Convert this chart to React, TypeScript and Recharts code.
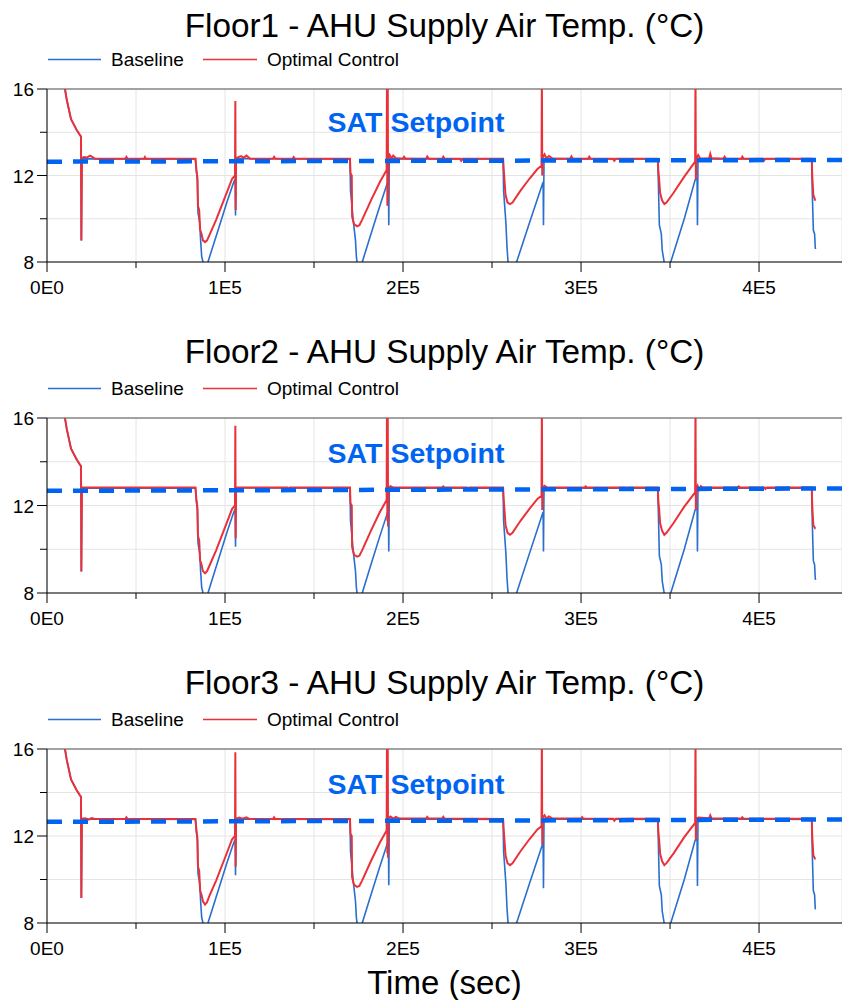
import { LineChart, Line, XAxis, YAxis, CartesianGrid, ReferenceLine } from 'recharts';

// time (s) / supply air temperature (°C)
const floor1Baseline: [number, number][] = [
  [0, 18.6], [10100, 16.0], [11100, 15.5], [13500, 14.6], [16700, 14.1], [18500, 13.87], [19100, 13.8],
  [19300, 9.0], [19600, 12.78], [83400, 12.76],
  [83900, 12.2], [84500, 11.8], [84800, 10.3], [85800, 9.8], [86300, 9.0], [86900, 8.25], [87500, 8.05],
  [87900, 7.6], [89000, 7.5], [90200, 7.9], [90600, 8.05], [96000, 9.45], [101000, 10.75], [104500, 11.6],
  [105700, 11.85], [105900, 10.15], [106200, 12.78], [170200, 12.76],
  [170500, 11.3], [171400, 10.5], [172000, 9.94], [173300, 9.0], [173800, 8.25], [174300, 7.9], [175500, 7.5],
  [176500, 7.8], [177100, 8.0], [182000, 9.3], [187000, 10.6], [191800, 11.8], [192000, 9.7], [192300, 12.78],
  [256200, 12.76],
  [256500, 11.3], [257800, 9.8], [258400, 8.7], [259000, 8.0], [259500, 7.6], [261500, 7.5], [263000, 7.9],
  [263800, 8.0], [271000, 9.8], [278700, 11.7], [278900, 9.7], [279200, 12.78], [343100, 12.76],
  [343400, 11.8], [344000, 9.7], [345100, 9.3], [345600, 8.55], [346700, 8.0], [347200, 7.6], [349000, 7.5],
  [350000, 7.9], [350400, 8.0], [358000, 10.0], [364100, 11.8], [365200, 11.85], [365400, 9.7], [365700, 12.78],
  [429600, 12.76], [429900, 11.25], [430500, 9.48], [431200, 9.3], [431600, 8.65], [431800, 8.6],
];

const floor1Optimal: [number, number][] = [
  [0, 18.6], [10100, 16.0], [11100, 15.5], [13500, 14.6], [16700, 14.1], [18500, 13.87], [19100, 13.8],
  [19300, 9.0], [19600, 12.8], [20800, 12.85], [22500, 12.83], [24200, 12.92], [25600, 12.85], [27000, 12.77],
  [44000, 12.77], [44600, 12.86], [45300, 12.77], [54500, 12.77], [55000, 12.85], [55600, 12.77], [83400, 12.77],
  [83900, 12.3], [84500, 11.9], [84800, 10.6], [85500, 10.4], [86000, 9.5], [86800, 9.3], [87600, 9.0],
  [88800, 8.92], [89900, 9.0], [91000, 9.2], [95000, 9.95], [100000, 11.0], [104000, 11.85], [105600, 12.0],
  [105800, 15.45], [106000, 10.4], [106200, 12.8], [107500, 12.85], [109000, 12.9], [110500, 12.82],
  [112000, 12.92], [114000, 12.78], [127000, 12.78], [127600, 12.86], [128300, 12.77], [138000, 12.77],
  [138600, 12.85], [139300, 12.77], [170200, 12.77],
  [170500, 12.1], [171200, 12.0], [171400, 10.1], [172500, 9.75], [174200, 9.65], [175500, 9.7], [177000, 9.95],
  [182000, 10.85], [187000, 11.7], [190800, 12.25], [191000, 16.8], [191200, 10.6], [191400, 16.8],
  [191600, 11.0], [191800, 12.8], [192500, 12.95], [193500, 12.8], [194500, 12.92], [196000, 12.8],
  [200000, 12.78], [200600, 12.86], [201300, 12.78], [213000, 12.78], [213600, 12.88], [214400, 12.78],
  [222000, 12.78], [222600, 12.87], [223300, 12.78], [232000, 12.77], [232700, 12.68], [233500, 12.77],
  [256200, 12.77],
  [256800, 12.0], [257600, 11.1], [258700, 10.75], [260100, 10.68], [261500, 10.75], [266000, 11.3],
  [271000, 11.85], [275500, 12.3], [277800, 12.45], [278000, 16.8], [278200, 12.0], [278500, 12.85],
  [279500, 12.98], [280500, 12.8], [282000, 12.9], [284000, 12.78], [294000, 12.78], [294600, 12.88],
  [295300, 12.78], [304000, 12.78], [304600, 12.87], [305300, 12.78], [318000, 12.77], [318700, 12.68],
  [319500, 12.77], [343100, 12.77],
  [343400, 12.25], [343900, 11.8], [344400, 11.2], [345500, 10.85], [346800, 10.68], [348000, 10.75],
  [352000, 11.2], [358000, 11.95], [364100, 12.64], [364300, 16.8], [364500, 11.8], [364800, 12.8],
  [365800, 12.95], [367000, 12.78], [372000, 12.8], [372600, 13.0], [373300, 12.8], [380000, 12.78],
  [380600, 12.87], [381300, 12.78], [390000, 12.78], [390600, 12.87], [391300, 12.78], [402000, 12.77],
  [402700, 12.68], [403500, 12.77], [429600, 12.77],
  [429900, 11.95], [430500, 11.1], [431500, 10.87], [431800, 10.87],
];

const floor2Baseline: [number, number][] = [
  [0, 18.6], [10100, 16.0], [11100, 15.5], [13500, 14.6], [16700, 14.1], [18500, 13.87], [19100, 13.8],
  [19300, 8.98], [19600, 12.8], [83400, 12.79],
  [83900, 12.2], [84500, 11.8], [84800, 10.3], [85800, 9.8], [86300, 9.0], [86900, 8.25], [87500, 8.05],
  [87900, 7.6], [89000, 7.5], [90200, 7.9], [90600, 8.05], [96000, 9.45], [101000, 10.75], [104500, 11.6],
  [105700, 11.85], [105900, 10.12], [106200, 12.8], [170200, 12.79],
  [170500, 11.3], [171400, 10.5], [172000, 9.94], [173300, 9.0], [173800, 8.25], [174300, 7.9], [175500, 7.5],
  [176500, 7.8], [177100, 8.0], [182000, 9.3], [187000, 10.6], [191800, 11.8], [192000, 9.9], [192300, 12.8],
  [256200, 12.79],
  [256500, 11.3], [257800, 9.8], [258400, 8.7], [259000, 8.0], [259500, 7.6], [261500, 7.5], [263000, 7.9],
  [263800, 8.0], [271000, 9.8], [278700, 11.7], [278900, 9.9], [279200, 12.8], [343100, 12.79],
  [343400, 11.8], [344000, 9.7], [345100, 9.3], [345600, 8.55], [346700, 8.0], [347200, 7.6], [349000, 7.5],
  [350000, 7.9], [350400, 8.0], [358000, 10.0], [364100, 11.8], [365200, 11.85], [365400, 9.9], [365700, 12.8],
  [429600, 12.79], [429900, 11.25], [430500, 9.48], [431200, 9.3], [431600, 8.65], [431800, 8.6],
];

const floor2Optimal: [number, number][] = [
  [0, 18.6], [10100, 16.0], [11100, 15.5], [13500, 14.6], [16700, 14.1], [18500, 13.87], [19100, 13.8],
  [19300, 8.98], [19600, 12.82], [83400, 12.82],
  [83900, 12.3], [84500, 11.9], [84800, 10.6], [85500, 10.4], [86000, 9.5], [86800, 9.3], [87600, 9.0],
  [88800, 8.9], [89900, 9.0], [91000, 9.2], [95000, 9.95], [100000, 11.0], [104000, 11.85], [105600, 12.0],
  [105800, 15.65], [106000, 10.5], [106200, 12.82], [135000, 12.82], [135600, 12.75], [136300, 12.82],
  [170200, 12.82],
  [170500, 12.1], [171200, 12.0], [171400, 10.1], [172500, 9.75], [174200, 9.66], [175500, 9.7], [177000, 9.95],
  [182000, 10.85], [187000, 11.7], [190800, 12.25], [191000, 16.8], [191200, 11.3], [191400, 16.8],
  [191600, 11.04], [191800, 12.82], [193000, 12.88], [194500, 12.82], [222000, 12.82], [222600, 12.87],
  [223300, 12.82], [236000, 12.82], [236600, 12.76], [237300, 12.82], [256200, 12.82],
  [256800, 12.0], [257600, 11.1], [258700, 10.75], [260100, 10.66], [261500, 10.75], [266000, 11.3],
  [271000, 11.85], [275500, 12.3], [277800, 12.45], [278000, 16.8], [278200, 11.8], [278500, 12.82],
  [279500, 12.9], [281000, 12.82], [302000, 12.82], [302600, 12.87], [303300, 12.82], [325000, 12.82],
  [325600, 12.75], [326300, 12.82], [343100, 12.82],
  [343400, 12.25], [343900, 11.8], [344400, 11.2], [345500, 10.85], [346800, 10.66], [348000, 10.75],
  [352000, 11.2], [358000, 11.95], [364100, 12.6], [364300, 16.8], [364500, 11.8], [364800, 12.75],
  [365500, 12.9], [366300, 12.72], [367300, 12.88], [368500, 12.82], [388000, 12.82], [388600, 12.87],
  [389300, 12.82], [403000, 12.82], [403600, 12.76], [404300, 12.82], [429600, 12.82],
  [429900, 11.95], [430500, 11.1], [431500, 10.96], [431800, 10.96],
];

const floor3Baseline: [number, number][] = [
  [0, 18.6], [10100, 16.0], [11100, 15.5], [13500, 14.6], [16700, 14.1], [18500, 13.87], [19100, 13.8],
  [19300, 9.15], [19600, 12.78], [83400, 12.76],
  [83900, 12.2], [84500, 11.8], [84800, 10.3], [85800, 9.8], [86300, 9.0], [86900, 8.25], [87500, 8.05],
  [87900, 7.6], [89000, 7.5], [90200, 7.9], [90600, 8.05], [96000, 9.45], [101000, 10.75], [104500, 11.6],
  [105700, 11.85], [105900, 10.2], [106200, 12.78], [170200, 12.76],
  [170500, 11.3], [171400, 10.5], [172000, 9.94], [173300, 9.0], [173800, 8.25], [174300, 7.9], [175500, 7.5],
  [176500, 7.8], [177100, 8.0], [182000, 9.3], [187000, 10.6], [191800, 11.8], [192000, 9.74], [192300, 12.78],
  [256200, 12.76],
  [256500, 11.3], [257800, 9.8], [258400, 8.7], [259000, 8.0], [259500, 7.6], [261500, 7.5], [263000, 7.9],
  [263800, 8.0], [271000, 9.8], [278700, 11.7], [278900, 9.6], [279200, 12.78], [343100, 12.76],
  [343400, 11.8], [344000, 9.7], [345100, 9.3], [345600, 8.55], [346700, 8.0], [347200, 7.6], [349000, 7.5],
  [350000, 7.9], [350400, 8.0], [358000, 10.0], [364100, 11.8], [365200, 11.85], [365400, 9.7], [365700, 12.78],
  [429600, 12.76], [429900, 11.25], [430500, 9.48], [431200, 9.3], [431600, 8.65], [431800, 8.63],
];

const floor3Optimal: [number, number][] = [
  [0, 18.6], [10100, 16.0], [11100, 15.5], [13500, 14.6], [16700, 14.1], [18500, 13.87], [19100, 13.8],
  [19300, 9.15], [19600, 12.8], [21500, 12.82], [23500, 12.75], [25000, 12.82], [27000, 12.78],
  [44000, 12.78], [44600, 12.86], [45300, 12.78], [83400, 12.78],
  [83900, 12.3], [84500, 11.9], [84800, 10.6], [85500, 10.4], [86000, 9.5], [86800, 9.3], [87600, 9.0],
  [88800, 8.85], [89900, 8.95], [91000, 9.2], [95000, 9.95], [100000, 11.0], [104000, 11.85], [105600, 12.0],
  [105800, 15.85], [106000, 10.6], [106200, 12.8], [108000, 12.85], [110000, 12.8], [112000, 12.86],
  [114000, 12.78], [127000, 12.78], [127600, 12.86], [128300, 12.78], [170200, 12.78],
  [170500, 12.1], [171200, 12.0], [171400, 10.1], [172500, 9.75], [174200, 9.66], [175500, 9.7], [177000, 9.95],
  [182000, 10.85], [187000, 11.7], [190800, 12.25], [191000, 16.8], [191200, 11.2], [191400, 16.8],
  [191600, 11.0], [191800, 12.82], [193000, 12.9], [194500, 12.8], [196000, 12.88], [198000, 12.8],
  [213000, 12.8], [213600, 12.88], [214400, 12.8], [222000, 12.8], [222600, 12.88], [223300, 12.8],
  [256200, 12.78],
  [256800, 12.0], [257600, 11.1], [258700, 10.75], [260100, 10.66], [261500, 10.75], [266000, 11.3],
  [271000, 11.85], [275500, 12.3], [277800, 12.45], [278000, 16.8], [278200, 11.6], [278500, 12.85],
  [279500, 12.95], [280500, 12.8], [282000, 12.9], [284000, 12.8], [300000, 12.8], [300600, 12.87],
  [301300, 12.8], [318000, 12.79], [318700, 12.7], [319500, 12.79], [343100, 12.79],
  [343400, 12.25], [343900, 11.8], [344400, 11.2], [345500, 10.85], [346800, 10.66], [348000, 10.75],
  [352000, 11.2], [358000, 11.95], [364100, 12.6], [364300, 16.8], [364500, 11.8], [364800, 12.8],
  [366000, 12.85], [372000, 12.82], [372600, 12.95], [373300, 12.82], [390000, 12.8], [390600, 12.86],
  [391300, 12.8], [429600, 12.79],
  [429900, 11.95], [430500, 11.1], [431500, 10.95], [431800, 10.95],
];

// dashed SAT setpoint, start and end of the run
const setpointTimes = [0, 446600];
const floor1Setpoint = [12.64, 12.72];
const floor2Setpoint = [12.67, 12.78];
const floor3Setpoint = [12.65, 12.76];

const xTicks = [0, 50000, 100000, 150000, 200000, 250000, 300000, 350000, 400000];
const xTickLabels = ['0E0', '', '1E5', '', '2E5', '', '3E5', '', '4E5'];
const yTicks = [8, 10, 12, 14, 16];
const yTickLabels = ['8', '', '12', '', '16'];

const BLUE = '#2a6fcf';
const RED = '#ea3139';
const SETPOINT = '#0064f2';
const FONT = '"Liberation Sans", Arial, sans-serif';
const PLOT_LEFT = 47;
const WIDTH = 842;

const XTick = (props: any) => {
  const { x, y, payload } = props;
  const label = xTickLabels[xTicks.indexOf(payload.value)];
  return (
    <g>
      <line x1={x} x2={x} y1={y} y2={y + (label ? 10 : 6)} stroke="#000" />
      {label && (
        <text x={x} y={y + 32} textAnchor="middle" fontSize={19} fontFamily={FONT} fill="#000">
          {label}
        </text>
      )}
    </g>
  );
};

const YTick = (props: any) => {
  const { x, y, payload } = props;
  const label = yTickLabels[yTicks.indexOf(payload.value)];
  return (
    <g>
      <line x1={x - (label ? 10 : 7)} x2={x} y1={y} y2={y} stroke="#000" />
      {label && (
        <text x={x - 13} y={y + 7} textAnchor="end" fontSize={19} fontFamily={FONT} fill="#000">
          {label}
        </text>
      )}
    </g>
  );
};

type PanelProps = {
  top: number;
  plotHeight: number;
  titleY: number;
  labelY: number;
  title: string;
  baseline: [number, number][];
  optimal: [number, number][];
  setpoint: number[];
};

const Panel = ({ top, plotHeight, titleY, labelY, title, baseline, optimal, setpoint }: PanelProps) => {
  const plotTop = 89;
  const legendY = plotTop - 29.5;
  return (
    <div style={{ position: 'absolute', left: 0, top, width: WIDTH, height: plotTop + plotHeight + 45 }}>
      <svg style={{ position: 'absolute', left: 0, top: 0 }} width={WIDTH} height={plotTop}>
        <text x={(PLOT_LEFT + WIDTH) / 2} y={titleY} textAnchor="middle" fontSize={33.3} fontFamily={FONT} fill="#000">
          {title}
        </text>
        <line x1={48} x2={101} y1={legendY} y2={legendY} stroke={BLUE} strokeWidth={1.5} />
        <text x={111} y={legendY + 6.5} fontSize={19} fontFamily={FONT} fill="#000">Baseline</text>
        <line x1={203} x2={257} y1={legendY} y2={legendY} stroke={RED} strokeWidth={1.5} />
        <text x={267} y={legendY + 6.5} fontSize={19} fontFamily={FONT} fill="#000">Optimal Control</text>
      </svg>
      <LineChart
        width={WIDTH}
        height={plotTop + plotHeight + 45}
        margin={{ top: plotTop, right: 0, bottom: 0, left: 0 }}
        style={{ position: 'absolute', left: 0, top: 0 }}
      >
        <CartesianGrid stroke="#e4e4e4" />
        <XAxis
          type="number"
          dataKey="t"
          domain={[0, 446600]}
          allowDataOverflow
          ticks={xTicks}
          interval={0}
          height={45}
          tickSize={0}
          tickMargin={0}
          tickLine={false}
          tick={<XTick />}
          axisLine={{ stroke: '#000' }}
        />
        <YAxis
          type="number"
          domain={[8, 16]}
          allowDataOverflow
          ticks={yTicks}
          interval={0}
          width={PLOT_LEFT}
          tickSize={0}
          tickMargin={0}
          tickLine={false}
          tick={<YTick />}
          axisLine={{ stroke: '#000' }}
        />
        <ReferenceLine y={16} stroke="#555" />
        <Line
          data={baseline.map(([t, v]) => ({ t, v }))}
          dataKey="v"
          type="linear"
          stroke={BLUE}
          strokeWidth={1.6}
          dot={false}
          isAnimationActive={false}
        />
        <Line
          data={optimal.map(([t, v]) => ({ t, v }))}
          dataKey="v"
          type="linear"
          stroke={RED}
          strokeWidth={2}
          dot={false}
          isAnimationActive={false}
        />
        <Line
          data={setpointTimes.map((t, i) => ({ t, v: setpoint[i] }))}
          dataKey="v"
          type="linear"
          stroke={SETPOINT}
          strokeWidth={4.5}
          strokeDasharray="15 11"
          dot={false}
          isAnimationActive={false}
        />
      </LineChart>
      <svg style={{ position: 'absolute', left: 0, top: 0, pointerEvents: 'none' }} width={WIDTH} height={plotTop + 60}>
        <text x={416} y={labelY} textAnchor="middle" fontSize={28.5} fontWeight="bold" fontFamily={FONT} fill={SETPOINT}>
          SAT Setpoint
        </text>
      </svg>
    </div>
  );
};

export default function App() {
  return (
    <div style={{ position: 'absolute', left: 0, top: 0, width: WIDTH, height: 1000, background: '#fff', fontFamily: FONT }}>
      <Panel top={0} plotHeight={173} titleY={37} labelY={131.5} title="Floor1 - AHU Supply Air Temp. (°C)" baseline={floor1Baseline} optimal={floor1Optimal} setpoint={floor1Setpoint} />
      <Panel top={329} plotHeight={175} titleY={34} labelY={133.5} title="Floor2 - AHU Supply Air Temp. (°C)" baseline={floor2Baseline} optimal={floor2Optimal} setpoint={floor2Setpoint} />
      <Panel top={660} plotHeight={174} titleY={34} labelY={133.5} title="Floor3 - AHU Supply Air Temp. (°C)" baseline={floor3Baseline} optimal={floor3Optimal} setpoint={floor3Setpoint} />
      <svg style={{ position: 'absolute', left: 0, top: 940 }} width={WIDTH} height={60}>
        <text x={(PLOT_LEFT + WIDTH) / 2} y={54} textAnchor="middle" fontSize={33} fontFamily={FONT} fill="#000">
          Time (sec)
        </text>
      </svg>
    </div>
  );
}
